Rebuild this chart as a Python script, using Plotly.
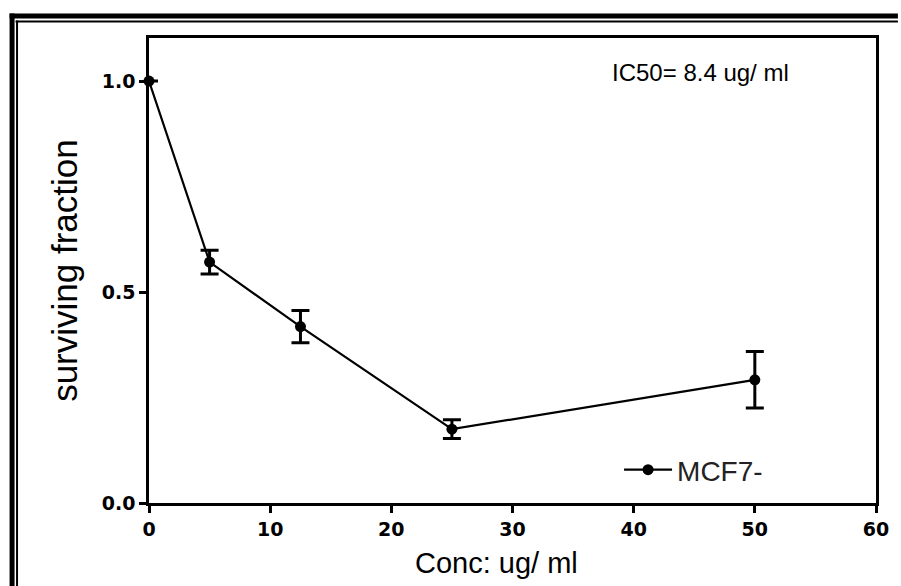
import plotly.graph_objects as go

# Data
conc = [0, 5, 12.5, 25, 50]
surviving = [1.0, 0.571, 0.418, 0.175, 0.292]
err = [0.0, 0.028, 0.038, 0.022, 0.067]
series_name = "MCF7-"
x_ticks = [0, 10, 20, 30, 40, 50, 60]
y_ticks = [0.0, 0.5, 1.0]
y_tick_text = ["0.0", "0.5", "1.0"]

W, H = 901, 586
L, R, T, B = 149, 22, 38, 83
pw, ph = W - L - R, H - T - B

def px_x(p):
    return (p - L) / pw

def px_y(p):
    return (H - B - p) / ph

fig = go.Figure()
fig.add_trace(go.Scatter(
    x=conc, y=surviving, name=series_name, mode="lines+markers",
    line=dict(color="black", width=2.2),
    marker=dict(color="black", size=11, symbol="circle"),
    error_y=dict(type="data", array=err, visible=True, color="black",
                 thickness=3, width=9),
    cliponaxis=False,
))

tickfont = dict(family="DejaVu Sans", size=19, color="black", weight="bold")

fig.update_layout(
    width=W, height=H,
    margin=dict(l=L, r=R, t=T, b=B),
    paper_bgcolor="white", plot_bgcolor="white",
    showlegend=True,
    legend=dict(x=px_x(621), y=px_y(470), xanchor="left", yanchor="middle",
                font=dict(family="Liberation Sans", size=28, color="#222"),
                bgcolor="rgba(0,0,0,0)", itemwidth=48),
    xaxis=dict(range=[0, 60], tickvals=x_ticks, showline=True, linecolor="black",
               linewidth=2.5, mirror=True, ticks="outside", ticklen=7, tickwidth=2.5,
               tickcolor="black", showgrid=False, zeroline=False, tickfont=tickfont),
    yaxis=dict(range=[0, 1.102], tickvals=y_ticks, ticktext=y_tick_text,
               showline=True, linecolor="black", linewidth=2.5, mirror=True,
               ticks="outside", ticklen=7, tickwidth=2.5, tickcolor="black",
               showgrid=False, zeroline=False, tickfont=tickfont),
    annotations=[
        dict(text="IC50= 8.4 ug/ ml", xref="paper", yref="paper",
             x=px_x(612), y=px_y(72), xanchor="left", yanchor="middle",
             showarrow=False,
             font=dict(family="Liberation Sans", size=24, color="black")),
        dict(text="surviving fraction", xref="paper", yref="paper",
             x=px_x(64), y=0.5, xanchor="center", yanchor="middle",
             textangle=-90, showarrow=False,
             font=dict(family="Liberation Sans", size=35, color="black")),
        dict(text="Conc: ug/ ml", xref="paper", yref="paper",
             x=px_x(498), y=px_y(563), xanchor="center", yanchor="middle",
             showarrow=False,
             font=dict(family="Liberation Sans", size=29, color="black")),
    ],
    shapes=[
        dict(type="line", xref="paper", yref="paper", x0=px_x(9), x1=px_x(W),
             y0=px_y(16), y1=px_y(16), line=dict(color="black", width=5)),
        dict(type="line", xref="paper", yref="paper", x0=px_x(15), x1=px_x(W),
             y0=px_y(21.5), y1=px_y(21.5), line=dict(color="black", width=2)),
        dict(type="line", xref="paper", yref="paper", x0=px_x(11.5), x1=px_x(11.5),
             y0=px_y(13.5), y1=px_y(H), line=dict(color="black", width=5)),
        dict(type="line", xref="paper", yref="paper", x0=px_x(16.5), x1=px_x(16.5),
             y0=px_y(20.5), y1=px_y(H), line=dict(color="black", width=2)),
    ],
)

fig.write_html("out.html", post_script="document.body.style.margin='0px';",
               config={"displayModeBar": False})
